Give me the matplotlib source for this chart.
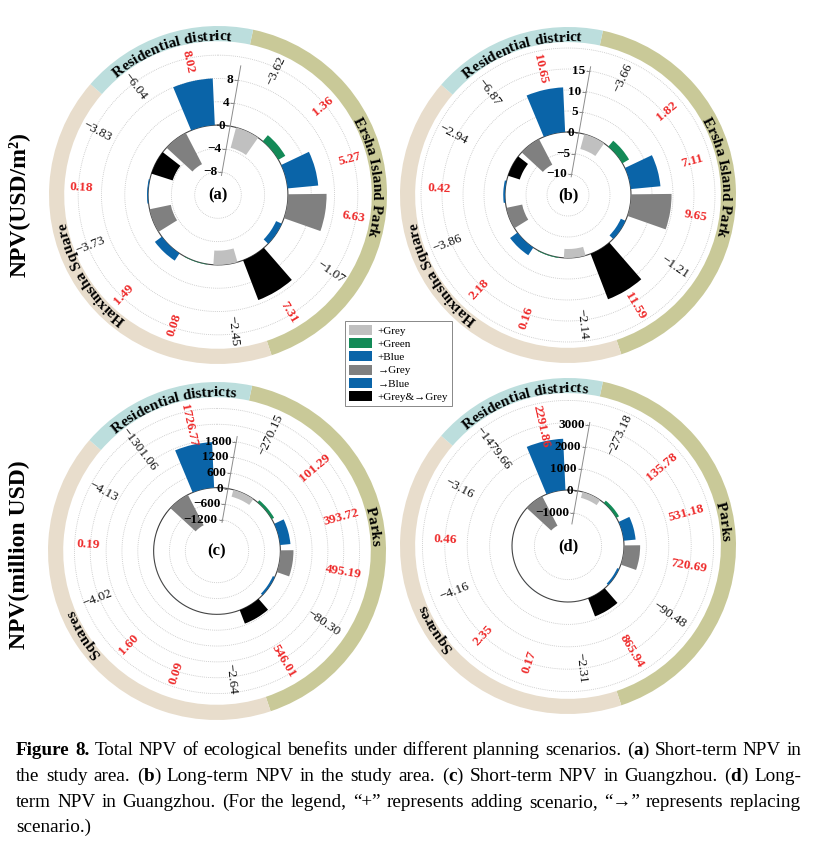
import numpy as np
import matplotlib
matplotlib.use("Agg")
import matplotlib.pyplot as plt
from matplotlib.patches import Patch
from matplotlib.font_manager import FontProperties

SERIF = ["Liberation Serif", "DejaVu Serif"]
plt.rcParams["font.family"] = SERIF

# ---------------- data ----------------
scenarios = ["+Grey", "+Green", "+Blue", "\u2192Grey", "\u2192Blue", "+Grey&\u2192Grey"]
scenario_colors = ["#c0c0c0", "#138a57", "#0a64a8", "#808080", "#0a64a8", "#000000"]

# bars clockwise from the axis: park (6 scenarios), square (6), residential (2)
bar_scenario = [0, 1, 2, 3, 4, 5, 0, 1, 2, 3, 4, 5, 3, 4]

npv_a = [-3.62, 1.36, 5.27, 6.63, -1.07, 7.31, -2.45, 0.08, 1.49, -3.73, 0.18, -3.83, -6.04, 8.02]
npv_b = [-3.66, 1.82, 7.11, 9.65, -1.21, 11.59, -2.14, 0.16, 2.18, -3.86, 0.42, -2.94, -6.87, 10.65]
npv_c = [-270.15, 101.29, 393.72, 495.19, -80.30, 546.01, -2.64, 0.09, 1.60, -4.02, 0.19, -4.13,
         -1301.06, 1726.77]
npv_d = [-273.18, 135.78, 531.18, 720.69, -90.48, 865.94, -2.31, 0.17, 2.35, -4.16, 0.46, -3.16,
         -1479.66, 2291.86]

groups_study = ["Ersha Island Park", "Haixinsha Square", "Residential district"]
groups_city = ["Parks", "Squares", "Residential districts"]
group_colors = ["#c9c998", "#e8ddcc", "#bcdedd"]

ticks_a = [-8, -4, 0, 4, 8]
ticks_b = [-10, -5, 0, 5, 10, 15]
ticks_c = [-1200, -600, 0, 600, 1200, 1800]
ticks_d = [-1000, 0, 1000, 2000, 3000]

ylabels = ["NPV(USD/m\u00b2)", "NPV(million USD)"]

caption = [
    "**Figure 8.** Total NPV of ecological benefits under different planning scenarios. (**a**) Short-term NPV in",
    "the study area. (**b**) Long-term NPV in the study area. (**c**) Short-term NPV in Guangzhou. (**d**) Long-",
    "term NPV in Guangzhou. (For the legend, \u201c+\u201d represents adding scenario, \u201c\u2192\u201d represents replacing",
    "scenario.)",
]

# ---------------- layout ----------------
W, H = 815, 844
fig = plt.figure(figsize=(W / 100, H / 100), dpi=100)
renderer = fig.canvas.get_renderer()

theta_deg = 25 + 24.8 * np.arange(len(npv_a))
group_spans = [(12, 161.5), (161.5, 311), (311, 372)]
axis_deg = 10
RED = "#ee2a2a"


def text_width(s, prop):
    w, _, _ = renderer.get_text_width_height_descent(s, prop, ismath=False)
    return w


def fmt(v):
    return f"{v:.2f}".replace("-", "\u2212")


def curved_text(ax, text, mid_deg, r, r_px, prop):
    bar = text_width("|", prop)
    total = text_width(text + "|", prop) - bar
    for i, ch in enumerate(text):
        if ch == " ":
            continue
        left = text_width(text[:i] + "|", prop) - bar
        cw = text_width(ch + "|", prop) - bar
        s = left + cw / 2 - total / 2
        ang = mid_deg + np.degrees(s / r_px)
        ax.text(np.deg2rad(ang), r, ch, rotation=-ang, rotation_mode="anchor",
                ha="center", va="baseline", fontproperties=prop, zorder=6, clip_on=False)


def draw_panel(tag, vals, ticks, cx, cy, R, lo, hi, grid_top, axis_span, lab_frac, groups, gmid):
    ax = fig.add_axes([(cx - R) / W, 1 - (cy + R) / H, 2 * R / W, 2 * R / H], projection="polar")
    ax.set_theta_zero_location("N")
    ax.set_theta_direction(-1)
    ax.set_ylim(lo, hi)
    ax.set_xticks([])
    ax.set_yticks([])
    ax.grid(False)
    ax.spines["polar"].set_visible(False)
    ax.patch.set_alpha(0)
    span = hi - lo

    full = np.linspace(0, 2 * np.pi, 400)
    step = ticks[1] - ticks[0]
    grid_vals = [t for t in ticks if t != 0] + list(np.arange(ticks[-1] + step, grid_top + step / 2, step))
    for g in grid_vals:
        ax.plot(full, np.full_like(full, g), color="#c4c4c4", lw=0.6, ls=(0, (1, 1.3)), zorder=1)
    ax.plot(full, np.zeros_like(full), color="#444444", lw=0.8, zorder=2)

    th = np.deg2rad(theta_deg)
    ax.bar(th, vals, width=np.deg2rad(20), bottom=0,
           color=[scenario_colors[k] for k in bar_scenario], linewidth=0, zorder=3)

    # value labels
    r_lab = lo + lab_frac * span
    for t, v in zip(theta_deg, vals):
        tt = t % 360
        rot = 90 - tt if tt < 180 else 270 - tt
        ax.text(np.deg2rad(t), r_lab, fmt(v), rotation=rot, rotation_mode="anchor",
                ha="center", va="center", fontsize=9.5,
                color=RED if v > 0 else "#111111",
                fontweight="bold" if v > 0 else "normal", zorder=5)

    # outer group ring
    for (a0, a1), col, name, m in zip(group_spans, group_colors, groups, gmid):
        ax.bar(np.deg2rad((a0 + a1) / 2), 0.09 * span, width=np.deg2rad(a1 - a0),
               bottom=lo + 0.91 * span, color=col, linewidth=0, zorder=2, clip_on=False)
        prop = FontProperties(family=SERIF, weight="bold", size=11)
        curved_text(ax, name, m, lo + 0.915 * span, 0.915 * R, prop)

    # radial axis
    ta = np.deg2rad(axis_deg)
    ax.plot([ta, ta], axis_span, color="#8c8c8c", lw=0.7, zorder=4)
    ax.plot([ta] * len(ticks), ticks, ls="none", marker=0, ms=3, mew=0.7, color="#8c8c8c", zorder=4)
    for t in ticks:
        ax.annotate(str(t).replace("-", "\u2212"), xy=(ta, t), xytext=(-3.5, 0),
                    textcoords="offset points", ha="right", va="center",
                    fontsize=9.5, fontweight="bold", zorder=6)

    ax.text(0, lo, tag, ha="center", va="center", fontsize=12, fontweight="bold")


draw_panel("(a)", npv_a, ticks_a, 218, 195, 169, -12, 17, 12, (-8.6, 10.5), 0.81,
           groups_study, [83, 238, -18])
draw_panel("(b)", npv_b, ticks_b, 568, 195, 168, -15, 25, 20, (-10.6, 16), 0.77,
           groups_study, [83, 238, -18])
draw_panel("(c)", npv_c, ticks_c, 217, 551, 169, -2400, 4000, 3000, (-1300, 2000), 0.76,
           groups_city, [81, 238, -17])
draw_panel("(d)", npv_d, ticks_d, 568, 546, 168, -2500, 5000, 4000, (-1500, 3100), 0.73,
           groups_city, [81, 238, -17])

for lab, yc in zip(ylabels, [205, 555]):
    fig.text(19 / W, 1 - yc / H, lab, rotation=90, ha="center", va="center",
             fontsize=17, fontweight="bold")

handles = [Patch(facecolor=c, edgecolor="none") for c in scenario_colors]
leg = fig.legend(handles, scenarios, loc="upper left", bbox_to_anchor=(345 / W, 1 - 321 / H),
                 frameon=True, fancybox=False, edgecolor="#888888", framealpha=1,
                 fontsize=8, handlelength=2.1, handleheight=1.0, borderpad=0.35,
                 labelspacing=0.22, handletextpad=0.5, borderaxespad=0)
leg.get_frame().set_linewidth(0.7)


# ---------------- caption ----------------
def parse_line(line):
    words = []
    bold = False
    for chunk in line.split(" "):
        pieces = []
        parts = chunk.split("**")
        for j, p in enumerate(parts):
            if j > 0:
                bold = not bold
            if p:
                pieces.append((p, bold))
        words.append(pieces)
    return words


x_left, x_right = 16, 801


def measure_line(words, size):
    props = {b: FontProperties(family=SERIF, size=size, weight="bold" if b else "normal")
             for b in (False, True)}
    widths = [[text_width(p, props[b]) for p, b in w] for w in words]
    space = text_width("a a", props[False]) - text_width("aa", props[False])
    return props, widths, space


# pick the font size so the first line fills the text width with normal spacing
first = parse_line(caption[0])
_, w0, sp0 = measure_line(first, 10)
nat0 = sum(sum(ws) for ws in w0) + sp0 * (len(first) - 1)
cap_size = 10 * (x_right - x_left - 4) / nat0

for i, line in enumerate(caption):
    words = parse_line(line)
    props, widths, space = measure_line(words, cap_size)
    word_w = [sum(ws) for ws in widths]
    if i < len(caption) - 1:
        gap = (x_right - x_left - sum(word_w)) / (len(words) - 1)
    else:
        gap = space
    x = x_left
    y = 755 + 25.8 * i
    for w, ws in zip(words, widths):
        for (p, b), pw in zip(w, ws):
            fig.text(x / W, 1 - y / H, p, ha="left", va="baseline", fontproperties=props[b])
            x += pw
        x += gap

fig.savefig("out.png", dpi=100)
